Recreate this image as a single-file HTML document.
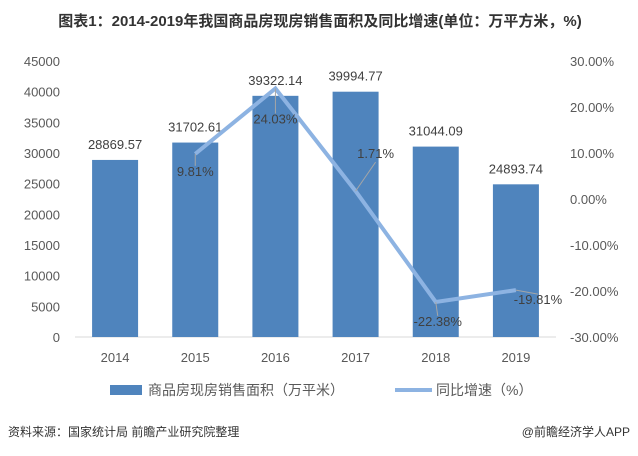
<!DOCTYPE html>
<html><head><meta charset="utf-8"><style>
body{margin:0;background:#fff;}
svg text{font-family:"Liberation Sans","Noto Sans CJK SC",sans-serif;}
</style></head><body>
<svg width="638" height="451" viewBox="0 0 638 451">
<text x="320" y="26" text-anchor="middle" font-size="15" font-weight="bold" fill="#333">图表1：2014-2019年我国商品房现房销售面积及同比增速(单位：万平方米，%)</text>
<g id="axes"></g>
<g id="bars"></g>
<g id="line"></g>
<g>
<rect x="110" y="385" width="32" height="10" fill="#4f84bd"/>
<text x="148" y="395" font-size="14" fill="#595959">商品房现房销售面积（万平米）</text>
<line x1="395" y1="390" x2="432" y2="390" stroke="#8db3e2" stroke-width="4"/>
<text x="436" y="395" font-size="14" fill="#595959">同比增速（%）</text>
</g>
<text x="8" y="436" font-size="12" fill="#333">资料来源：国家统计局 前瞻产业研究院整理</text>
<text x="630" y="436" font-size="12" fill="#333" text-anchor="end">@前瞻经济学人APP</text>
</svg>
<script>
const categories=["2014","2015","2016","2017","2018","2019"];
const areaValues=[28869.57,31702.61,39322.14,39994.77,31044.09,24893.74];
const growthValues=[null,9.81,24.03,1.71,-22.38,-19.81];
const leftTicks=[0,5000,10000,15000,20000,25000,30000,35000,40000,45000];
const rightTicks=[-30,-20,-10,0,10,20,30];
const NS="http://www.w3.org/2000/svg";
const x0=75,x1=556,yTop=61,yBot=337;
const band=(x1-x0)/categories.length;
const xC=i=>x0+band*(i+0.5);
const yL=v=>yBot-(v/45000)*(yBot-yTop);
const yR=v=>yBot-((v+30)/60)*(yBot-yTop);
function mk(tag,attrs,parent){const e=document.createElementNS(NS,tag);for(const k in attrs)e.setAttribute(k,attrs[k]);parent.appendChild(e);return e;}
const axes=document.getElementById('axes'),bars=document.getElementById('bars'),line=document.getElementById('line');
leftTicks.forEach(t=>{const e=mk('text',{x:60,y:yL(t)+5,'text-anchor':'end','font-size':13,fill:'#595959'},axes);e.textContent=t;

});
rightTicks.forEach(t=>{const e=mk('text',{x:570,y:yR(t)+5,'font-size':13,fill:'#595959'},axes);e.textContent=t.toFixed(2)+'%';

});
const ax=mk('line',{x1:x0,x2:x1,y1:yBot,y2:yBot,stroke:'#d9d9d9','stroke-width':1},axes);


categories.forEach((c,i)=>{const e=mk('text',{x:xC(i),y:yBot+25,'text-anchor':'middle','font-size':13,fill:'#595959'},axes);e.textContent=c;

});
const bw=46;
areaValues.forEach((v,i)=>{const r=mk('rect',{x:xC(i)-bw/2,y:yL(v),width:bw,height:yBot-yL(v),fill:'#4f84bd'},bars);


const t=mk('text',{x:xC(i),y:yL(v)-11,'text-anchor':'middle','font-size':13,fill:'#404040','font-family':'DejaVu Sans Mono, monospace'},bars);t.textContent=v.toFixed(2);

});
const pts=[];growthValues.forEach((v,i)=>{if(v!==null)pts.push([xC(i),yR(v),v,i]);});
const pl=mk('polyline',{points:pts.map(p=>p[0]+','+p[1]).join(' '),fill:'none',stroke:'#8db3e2','stroke-width':4,'stroke-linejoin':'miter'},line);


const offs=[[0,null],[0,22],[0,35],[20,-33],[2,24],[22,14]];
pts.forEach(p=>{const o=offs[p[3]];const lx=p[0]+o[0],ly=p[1]+o[1];
const ld=mk('line',{x1:p[0],y1:p[1],x2:lx,y2:ly-(o[1]>0?10:-4),stroke:'#a6a6a6','stroke-width':1},line);


const t=mk('text',{x:lx,y:ly,'text-anchor':'middle','font-size':13,fill:'#404040','font-family':'DejaVu Sans Mono, monospace'},line);t.textContent=p[2].toFixed(2)+'%';

});
</script>
</body></html>
